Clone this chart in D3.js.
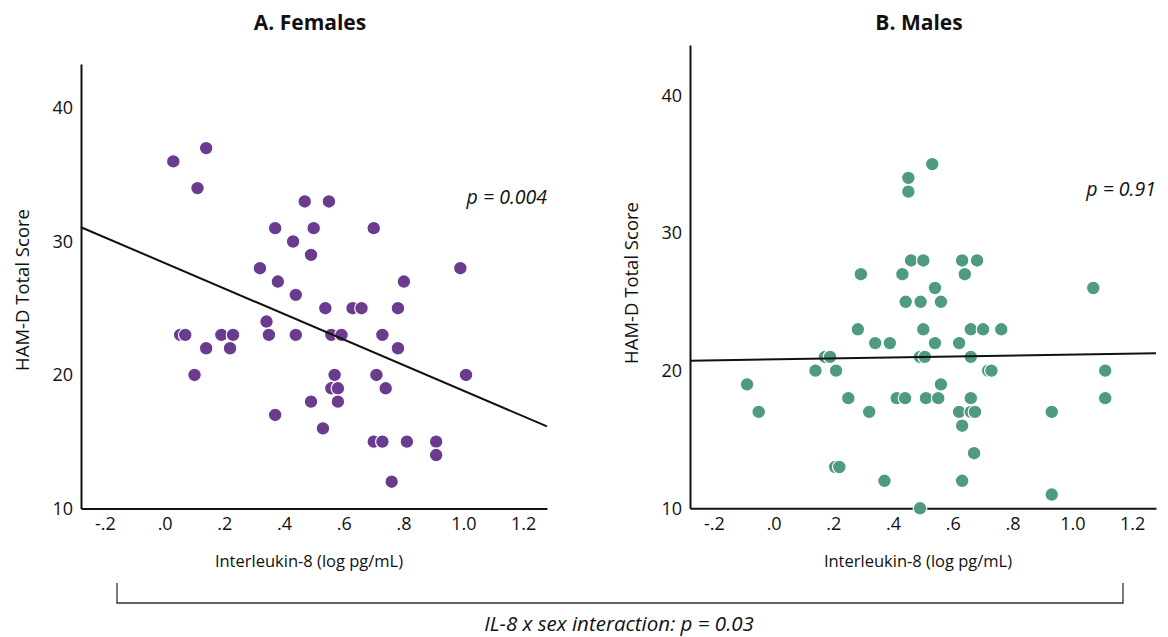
<!DOCTYPE html>
<html>
<head>
<meta charset="utf-8">
<script src="https://cdn.jsdelivr.net/npm/d3@7"></script>
<style>
  body { margin: 0; background: #fff; }
  text { font-family: "Open Sans", sans-serif; fill: #111; }
</style>
</head>
<body>
<svg width="1168" height="637"></svg>
<script>
// values
var xTicks = [-0.2, 0, 0.2, 0.4, 0.6, 0.8, 1.0, 1.2];
var yTicks = [10, 20, 30, 40];

var femaleIL8 = [0.029, 0.139, 0.110, 0.469, 0.550, 0.370, 0.499, 0.700, 0.430, 0.490,
    0.319, 0.990, 0.379, 0.801, 0.439, 0.538, 0.629, 0.659, 0.781, 0.341,
    0.052, 0.069, 0.190, 0.229, 0.349, 0.439, 0.558, 0.592, 0.729, 0.139,
    0.219, 0.781, 0.100, 0.569, 0.709, 1.009, 0.558, 0.580, 0.740, 0.490,
    0.580, 0.370, 0.530, 0.700, 0.729, 0.811, 0.909, 0.909, 0.760];
var femaleHAMD = [36, 37, 34, 33, 33, 31, 31, 31, 30, 29,
    28, 28, 27, 27, 26, 25, 25, 25, 25, 24,
    23, 23, 23, 23, 23, 23, 23, 23, 23, 22,
    22, 22, 20, 20, 20, 20, 19, 19, 19, 18,
    18, 17, 16, 15, 15, 15, 15, 14, 12];

var maleIL8 = [0.531, 0.451, 0.451, 0.460, 0.501, 0.631, 0.681, 0.292, 0.431, 0.640,
    0.540, 1.070, 0.442, 0.492, 0.560, 0.282, 0.501, 0.660, 0.701, 0.762,
    0.340, 0.389, 0.540, 0.621, 0.172, 0.189, 0.490, 0.506, 0.660, 0.140,
    0.209, 0.718, 0.729, 1.110, -0.089, 0.560, 0.250, 0.412, 0.440, 0.510,
    0.551, 0.660, 1.110, -0.050, 0.320, 0.621, 0.660, 0.674, 0.931, 0.631,
    0.671, 0.206, 0.220, 0.371, 0.631, 0.931, 0.490];
var maleHAMD = [35, 34, 33, 28, 28, 28, 28, 27, 27, 27,
    26, 26, 25, 25, 25, 23, 23, 23, 23, 23,
    22, 22, 22, 22, 21, 21, 21, 21, 21, 20,
    20, 20, 20, 20, 19, 19, 18, 18, 18, 18,
    18, 18, 18, 17, 17, 17, 17, 17, 17, 16,
    14, 13, 13, 12, 12, 11, 10];

// fit lines: [intercept, slope]
var femaleFit = [28.39, -9.57];
var maleFit = [20.82, 0.35];

var svg = d3.select('svg');

var panels = [
    {title: 'A. Females', xs: femaleIL8, ys: femaleHAMD, fit: femaleFit, p: 'p = 0.004',
     color: '#6a3b8f', left: 81, right: 547, top: 64, bottom: 508.4, yMax: 43.3, pY: 204, labelY: 290},
    {title: 'B. Males', xs: maleIL8, ys: maleHAMD, fit: maleFit, p: 'p = 0.91',
     color: '#4f9a82', left: 690, right: 1156, top: 45, bottom: 508.3, yMax: 43.65, pY: 196, labelY: 283}
];

// SPSS style labels: -.2, .0, 1.0
function tickFmt(d) {
    var s = Math.abs(d).toFixed(1);
    if (s.charAt(0) === '0') s = s.slice(1);
    return (d < 0 ? '-' : '') + s;
}

panels.forEach(function(pn) {
    var x = d3.scaleLinear().domain([-0.28, 1.28]).range([pn.left, pn.right]);
    var y = d3.scaleLinear().domain([10, pn.yMax]).range([pn.bottom, pn.top]);
    var g = svg.append('g');
    var cx = (pn.left + pn.right) / 2;

    g.append('text')
        .attr('x', cx - 4).attr('y', 30)
        .attr('text-anchor', 'middle')
        .style('font-size', '21px').style('font-weight', 'bold')
        .text(pn.title);

    // axes without tick marks
    var xAxis = d3.axisBottom(x).tickValues(xTicks).tickSize(0).tickPadding(9).tickFormat(tickFmt);
    var yAxis = d3.axisLeft(y).tickValues(yTicks).tickSize(0).tickPadding(8);

    g.append('g')
        .attr('transform', 'translate(0,' + pn.bottom + ')')
        .call(xAxis)
        .call(function(a) {
            a.select('.domain').attr('stroke', '#111').attr('stroke-width', 2);
            a.selectAll('text').style('font-size', '18px').style('font-family', '"Open Sans", sans-serif').attr('fill', '#111');
        });
    g.append('g')
        .attr('transform', 'translate(' + pn.left + ',0)')
        .call(yAxis)
        .call(function(a) {
            a.select('.domain').attr('stroke', '#111').attr('stroke-width', 2);
            a.selectAll('text').style('font-size', '18px').style('font-family', '"Open Sans", sans-serif').attr('fill', '#111');
        });

    g.append('text')
        .attr('transform', 'translate(' + (pn.left - 52) + ',' + pn.labelY + ')rotate(-90)')
        .attr('text-anchor', 'middle')
        .style('font-size', '18.5px')
        .text('HAM-D Total Score');

    g.append('text')
        .attr('x', cx - 5).attr('y', 567)
        .attr('text-anchor', 'middle')
        .style('font-size', '16.5px')
        .text('Interleukin-8 (log pg/mL)');

    var pts = pn.xs.map(function(v, i) { return {x: v, y: pn.ys[i]}; });
    g.selectAll('.dot')
        .data(pts)
        .enter()
        .append('circle')
        .attr('class', 'dot')
        .attr('cx', function(d) { return x(d.x); })
        .attr('cy', function(d) { return y(d.y); })
        .attr('r', 6.8)
        .attr('fill', pn.color)
        .attr('stroke', '#fff')
        .attr('stroke-width', 1.2);

    var x0 = x.domain()[0], x1 = x.domain()[1];
    g.append('line')
        .attr('x1', x(x0)).attr('y1', y(pn.fit[0] + pn.fit[1] * x0))
        .attr('x2', x(x1)).attr('y2', y(pn.fit[0] + pn.fit[1] * x1))
        .attr('stroke', '#111').attr('stroke-width', 2);

    g.append('text')
        .attr('x', pn.right).attr('y', pn.pY)
        .attr('text-anchor', 'end')
        .style('font-size', '19.5px').style('font-style', 'italic')
        .text(pn.p);
});

// interaction bracket
svg.append('path')
    .attr('d', 'M117,583V603H1123V583')
    .attr('fill', 'none').attr('stroke', '#333').attr('stroke-width', 1.3);
svg.append('text')
    .attr('x', 619).attr('y', 631)
    .attr('text-anchor', 'middle')
    .style('font-size', '20.5px').style('font-style', 'italic')
    .text('IL-8 x sex interaction: p = 0.03');
</script>
</body>
</html>
